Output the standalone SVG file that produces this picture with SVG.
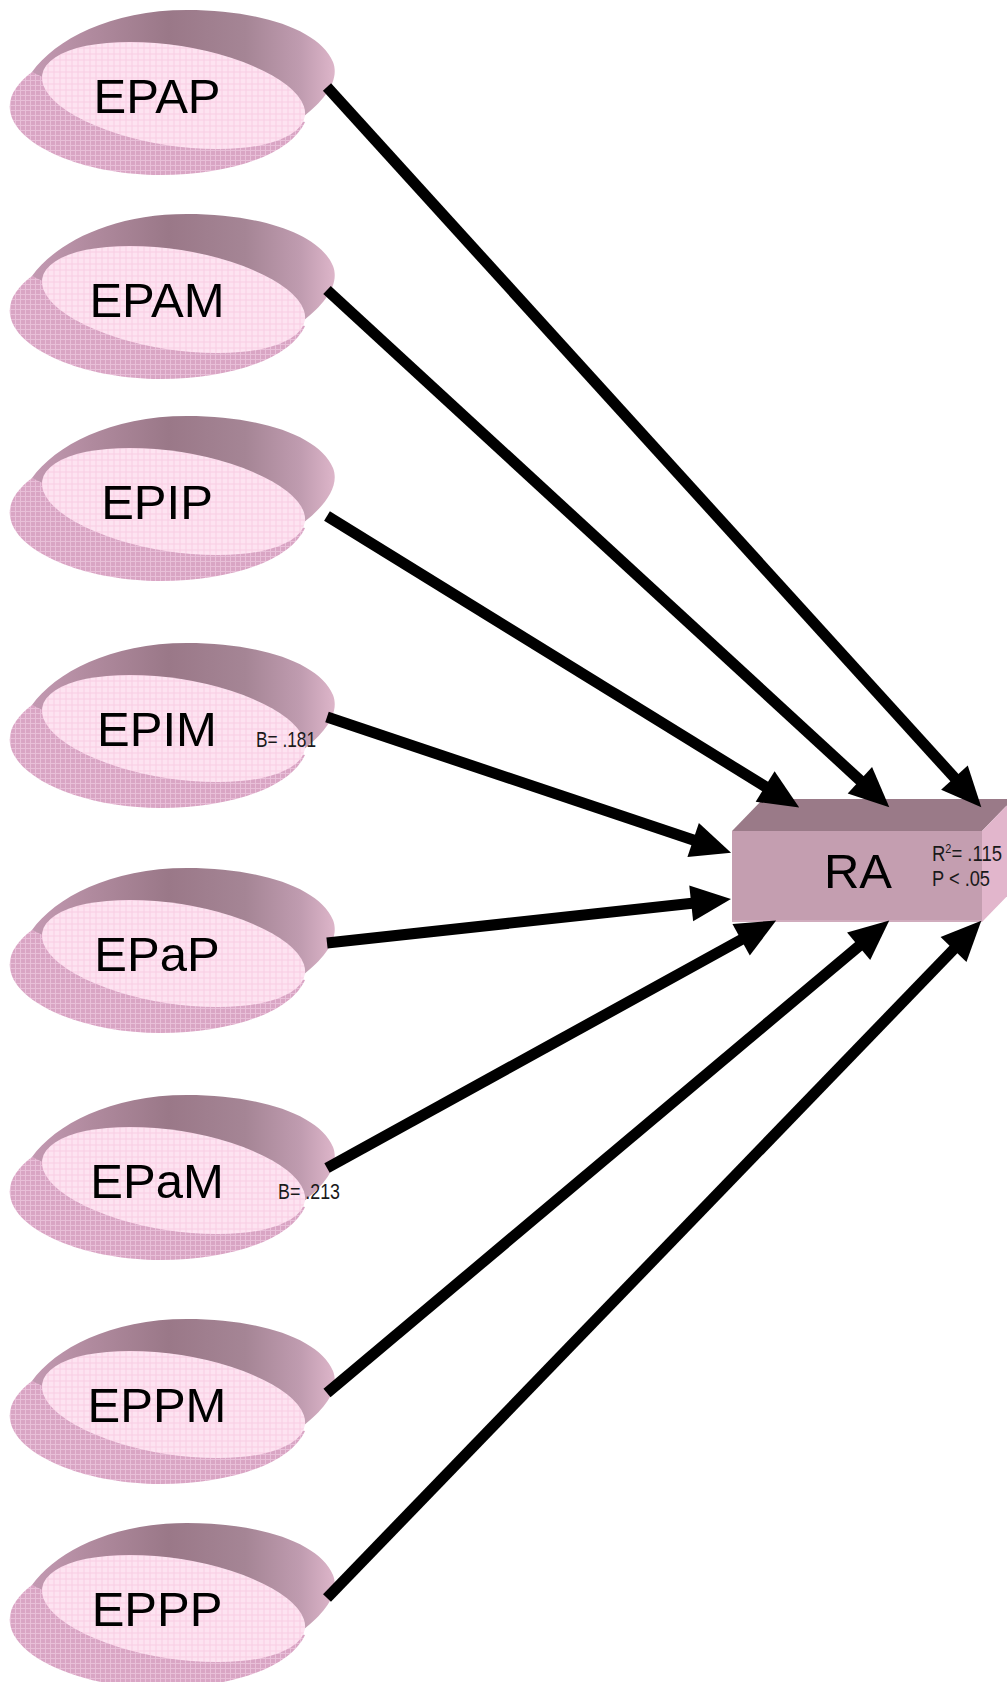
<svg xmlns="http://www.w3.org/2000/svg" xmlns:xlink="http://www.w3.org/1999/xlink" width="1007" height="1682" viewBox="0 0 1007 1682">
<style>
.lbl{font-family:"Liberation Sans",Arial,sans-serif;font-size:49px;fill:#000;text-anchor:middle}
.coef{font-family:"Liberation Sans",Arial,sans-serif;font-size:22px;fill:#1a1a1a}
.conn{stroke:#000;stroke-width:11;fill:none;stroke-linecap:butt;marker-end:url(#ah)}
</style>
<defs>
<pattern id="pl" width="6" height="6" patternUnits="userSpaceOnUse" patternTransform="rotate(-9)">
<rect width="6" height="6" fill="#fde3f1"/>
<path d="M0,0.5H6M0.5,0V6" stroke="#f8cde3" stroke-width="1"/>
</pattern>
<pattern id="pm" width="5" height="5" patternUnits="userSpaceOnUse">
<rect width="5" height="5" fill="#d9a5c4"/>
<path d="M0,0.5H5M0.5,0V5" stroke="#e8bfd8" stroke-width="1"/>
</pattern>
<linearGradient id="gd" gradientUnits="userSpaceOnUse" x1="30" y1="0" x2="338" y2="0">
<stop offset="0" stop-color="#c49ab3"/>
<stop offset="0.2" stop-color="#b08a9e"/>
<stop offset="0.45" stop-color="#9a7888"/>
<stop offset="0.7" stop-color="#a58595"/>
<stop offset="0.88" stop-color="#c09cb0"/>
<stop offset="1" stop-color="#e0b8cc"/>
</linearGradient>
<g id="disc">
<path d="M32,72 C15,85 5,100 12,118 C25,150 90,175 160,175 C230,175 290,155 305,122 L173,95 Z" fill="url(#pm)"/>
<path d="M32,72 C55,40 110,10 187,10 C260,10 320,30 333,62 C340,80 325,100 303,117 L250,100 L173,95 L60,85 Z" fill="url(#gd)"/>
<ellipse transform="translate(173.5,95.5) rotate(9)" cx="0" cy="0" rx="133" ry="50" fill="url(#pl)"/>
</g>
<marker id="ah" markerUnits="userSpaceOnUse" markerWidth="42" markerHeight="38" refX="1" refY="18" orient="auto" overflow="visible">
<path d="M0,0 L40,18 L0,36 Z" fill="#000"/>
</marker>
</defs>
<rect width="1007" height="1682" fill="#fff"/>

<g id="n-epap"><use xlink:href="#disc"/><text class="lbl" x="157" y="113">EPAP</text></g>
<g id="n-epam"><use xlink:href="#disc" transform="translate(0,204)"/><text class="lbl" x="157" y="317">EPAM</text></g>
<g id="n-epip"><use xlink:href="#disc" transform="translate(0,406)"/><text class="lbl" x="157" y="519">EPIP</text></g>
<g id="n-epim"><use xlink:href="#disc" transform="translate(0,633)"/><text class="lbl" x="157" y="746">EPIM</text><text class="coef" x="256" y="747" textLength="60" lengthAdjust="spacingAndGlyphs">B= .181</text></g>
<g id="n-epap2"><use xlink:href="#disc" transform="translate(0,858)"/><text class="lbl" x="157" y="971">EPaP</text></g>
<g id="n-epam2"><use xlink:href="#disc" transform="translate(0,1085)"/><text class="lbl" x="157" y="1198">EPaM</text><text class="coef" x="278" y="1199" textLength="62" lengthAdjust="spacingAndGlyphs">B= .213</text></g>
<g id="n-eppm"><use xlink:href="#disc" transform="translate(0,1309)"/><text class="lbl" x="157" y="1422">EPPM</text></g>
<g id="n-eppp"><use xlink:href="#disc" transform="translate(0,1513)"/><text class="lbl" x="157" y="1626">EPPP</text></g>

<g id="n-ra">
<polygon points="732,831 763,799 1013,799 982,831" fill="#9a7a88"/>
<polygon points="982,831 1013,799 1013,890 982,922" fill="#e2b6cc"/>
<rect x="732" y="831" width="250" height="91" fill="#c49eb0"/>
<path d="M732,921H982" stroke="#d4b0c2" stroke-width="1.5"/>
<text class="lbl" x="858" y="888">RA</text>
<text class="coef" x="932" y="861" textLength="70" lengthAdjust="spacingAndGlyphs">R<tspan font-size="13" dy="-8">2</tspan><tspan dy="8">= .115</tspan></text>
<text class="coef" x="932" y="886" textLength="58" lengthAdjust="spacingAndGlyphs">P &lt; .05</text>
</g>

<g id="connectors">
<line class="conn" x1="327" y1="87" x2="955.1" y2="778.4"/>
<line class="conn" x1="327" y1="290" x2="860.6" y2="780.9"/>
<line class="conn" x1="327" y1="516" x2="766" y2="787"/>
<line class="conn" x1="327" y1="717" x2="694.1" y2="840.3"/>
<line class="conn" x1="327" y1="943" x2="692.2" y2="903.3"/>
<line class="conn" x1="327" y1="1168" x2="742" y2="939.3"/>
<line class="conn" x1="327" y1="1393" x2="859.4" y2="945.7"/>
<line class="conn" x1="327" y1="1598" x2="954.2" y2="948.8"/>
</g>
</svg>
